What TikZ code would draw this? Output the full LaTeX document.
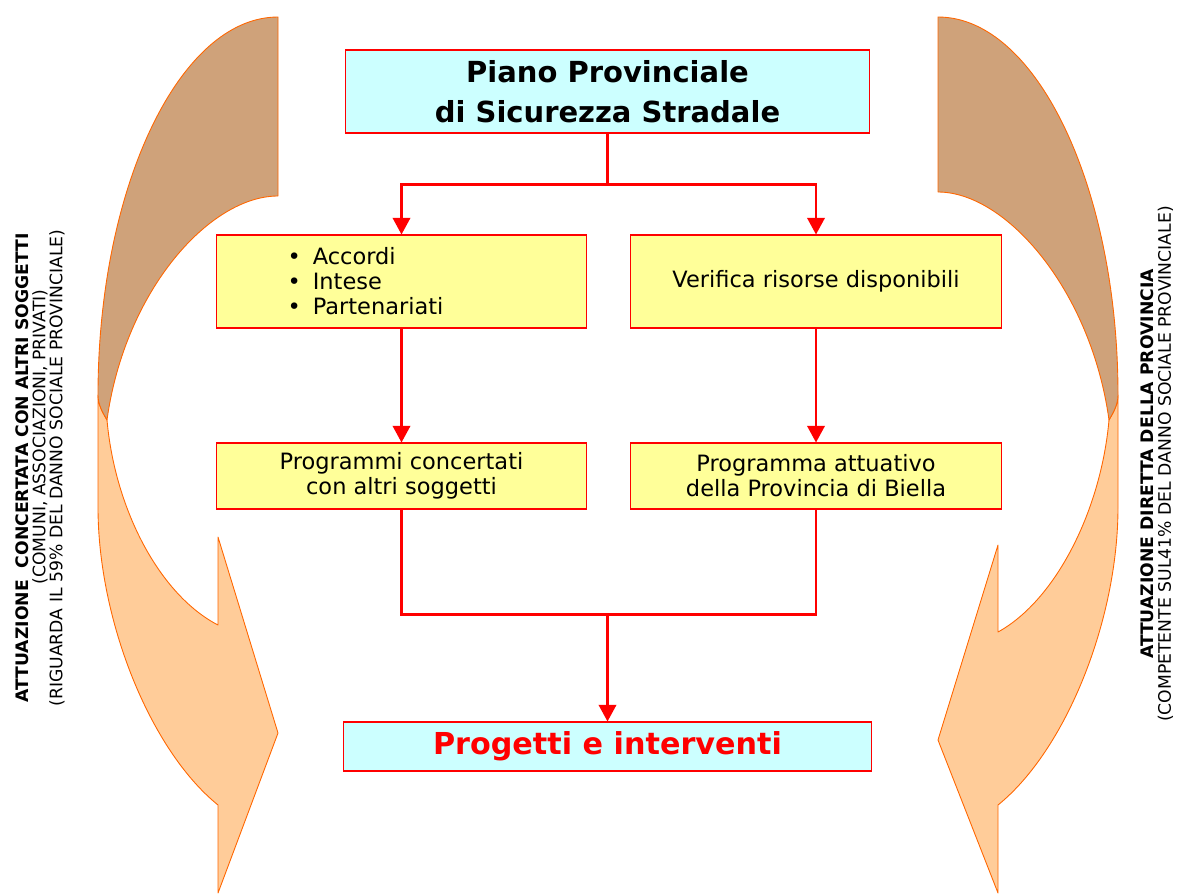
\documentclass[tikz,border=0pt]{standalone}
\usepackage{fontspec}
\setmainfont{DejaVu Sans}
\usepackage{xcolor}
\usetikzlibrary{arrows.meta}

\definecolor{boxcyan}{HTML}{CCFFFF}
\definecolor{boxyellow}{HTML}{FFFF99}
\definecolor{bandbrown}{HTML}{CFA27A}
\definecolor{bandlight}{HTML}{FFCC99}
\definecolor{bandline}{HTML}{FF6600}

\begin{document}
\begin{tikzpicture}[x=0.02cm, y=-0.02cm,
	box/.style={draw=red, line width=0.6pt, inner sep=0pt, align=center},
	cyanbox/.style={box, fill=boxcyan, minimum width=10.5cm},
	yellowbox/.style={box, fill=boxyellow, minimum width=7.42cm, font=\fontsize{12.8}{14.2}\selectfont},
	conn/.style={red, line width=1.2pt},
	arrowconn/.style={conn, -{Triangle[width=10pt,length=9.5pt]}},
	lightband/.style={fill=bandlight, draw=bandline, line width=0.5pt, line join=round},
	darkband/.style={fill=bandbrown, draw=bandline, line width=0.5pt, line join=round},
	sidetext/.style={rotate=90, align=center, inner sep=0pt, font=\fontsize{9.8}{9.7}\selectfont}]
	\useasboundingbox (0,0) rectangle (1177,893);
	% curved arrows
	\draw[lightband] (107,420) .. controls (103,413) and (98,405) .. (98,395) -- (98,507) .. controls (98,620) and (150,750) .. (218,805) -- (218,893) -- (278,733) -- (218,537) -- (218,625) .. controls (160,595) and (115,510) .. (107,420) -- cycle;
	\draw[darkband] (278,17) .. controls (179,17) and (98,189) .. (98,395) .. controls (98,405) and (103,413) .. (107,420) .. controls (125,290) and (210,196) .. (278,196) -- cycle;
	\draw[lightband] (1109,420) .. controls (1113,413) and (1118,405) .. (1118,395) -- (1118,507) .. controls (1118,620) and (1066,750) .. (998,805) -- (998,893) -- (938,740) -- (998,545) -- (998,632) .. controls (1056,600) and (1101,510) .. (1109,420) -- cycle;
	\draw[darkband] (938,17) .. controls (1037,17) and (1118,189) .. (1118,395) .. controls (1118,405) and (1113,413) .. (1109,420) .. controls (1091,290) and (1006,192) .. (938,192) -- cycle;
	% boxes
	\node[cyanbox, minimum height=1.66cm, font=\fontsize{16.5}{23}\selectfont\bfseries] (title) at (607.5,91.5) {Piano Provinciale\\di Sicurezza Stradale};
	\node[yellowbox, minimum height=1.86cm, align=left] (acc) at (401.5,281.5) {\textbullet\hspace{0.24cm}Accordi\\\textbullet\hspace{0.24cm}Intese\\\textbullet\hspace{0.24cm}Partenariati\hspace*{1.44cm}};
	\node[yellowbox, minimum height=1.86cm] (ver) at (816,281.5) {Verifica risorse disponibili};
	\node[yellowbox, minimum height=1.32cm] (prc) at (401.5,476) {Programmi concertati\\con altri soggetti};
	\node[yellowbox, minimum height=1.32cm] (pra) at (816,476) {Programma attuativo\\della Provincia di Biella};
	\node[cyanbox, minimum width=10.58cm, minimum height=0.98cm, text=red, font=\fontsize{17.2}{20}\selectfont\bfseries] (prog) at (607.5,746.5) {Progetti e interventi};
	% connectors
	\path (title.south) ++(0,51) coordinate (split);
	\path (prog.north) ++(0,-107) coordinate (merge);
	\draw[conn] (title.south) -- (split);
	\draw[arrowconn] (split) -| (acc.north);
	\draw[arrowconn] (split) -| (ver.north);
	\draw[arrowconn] (acc.south) -- (prc.north);
	\draw[arrowconn] (ver.south) -- (pra.north);
	\draw[conn] (prc.south) |- (merge) -| (pra.south);
	\draw[arrowconn] (merge) -- (prog.north);
	% side texts
	\node[sidetext] (lefttext) at (40,468) {\textbf{ATTUAZIONE\ \ CONCERTATA CON ALTRI SOGGETTI}\\\hspace*{1.24cm}(COMUNI, ASSOCIAZIONI, PRIVATI)\\(RIGUARDA IL 59\% DEL DANNO SOCIALE PROVINCIALE)};
	\node[sidetext] (righttext) at (1157,464) {\textbf{ATTUAZIONE DIRETTA DELLA PROVINCIA}\\(COMPETENTE SUL41\% DEL DANNO SOCIALE PROVINCIALE)};
\end{tikzpicture}
\end{document}
